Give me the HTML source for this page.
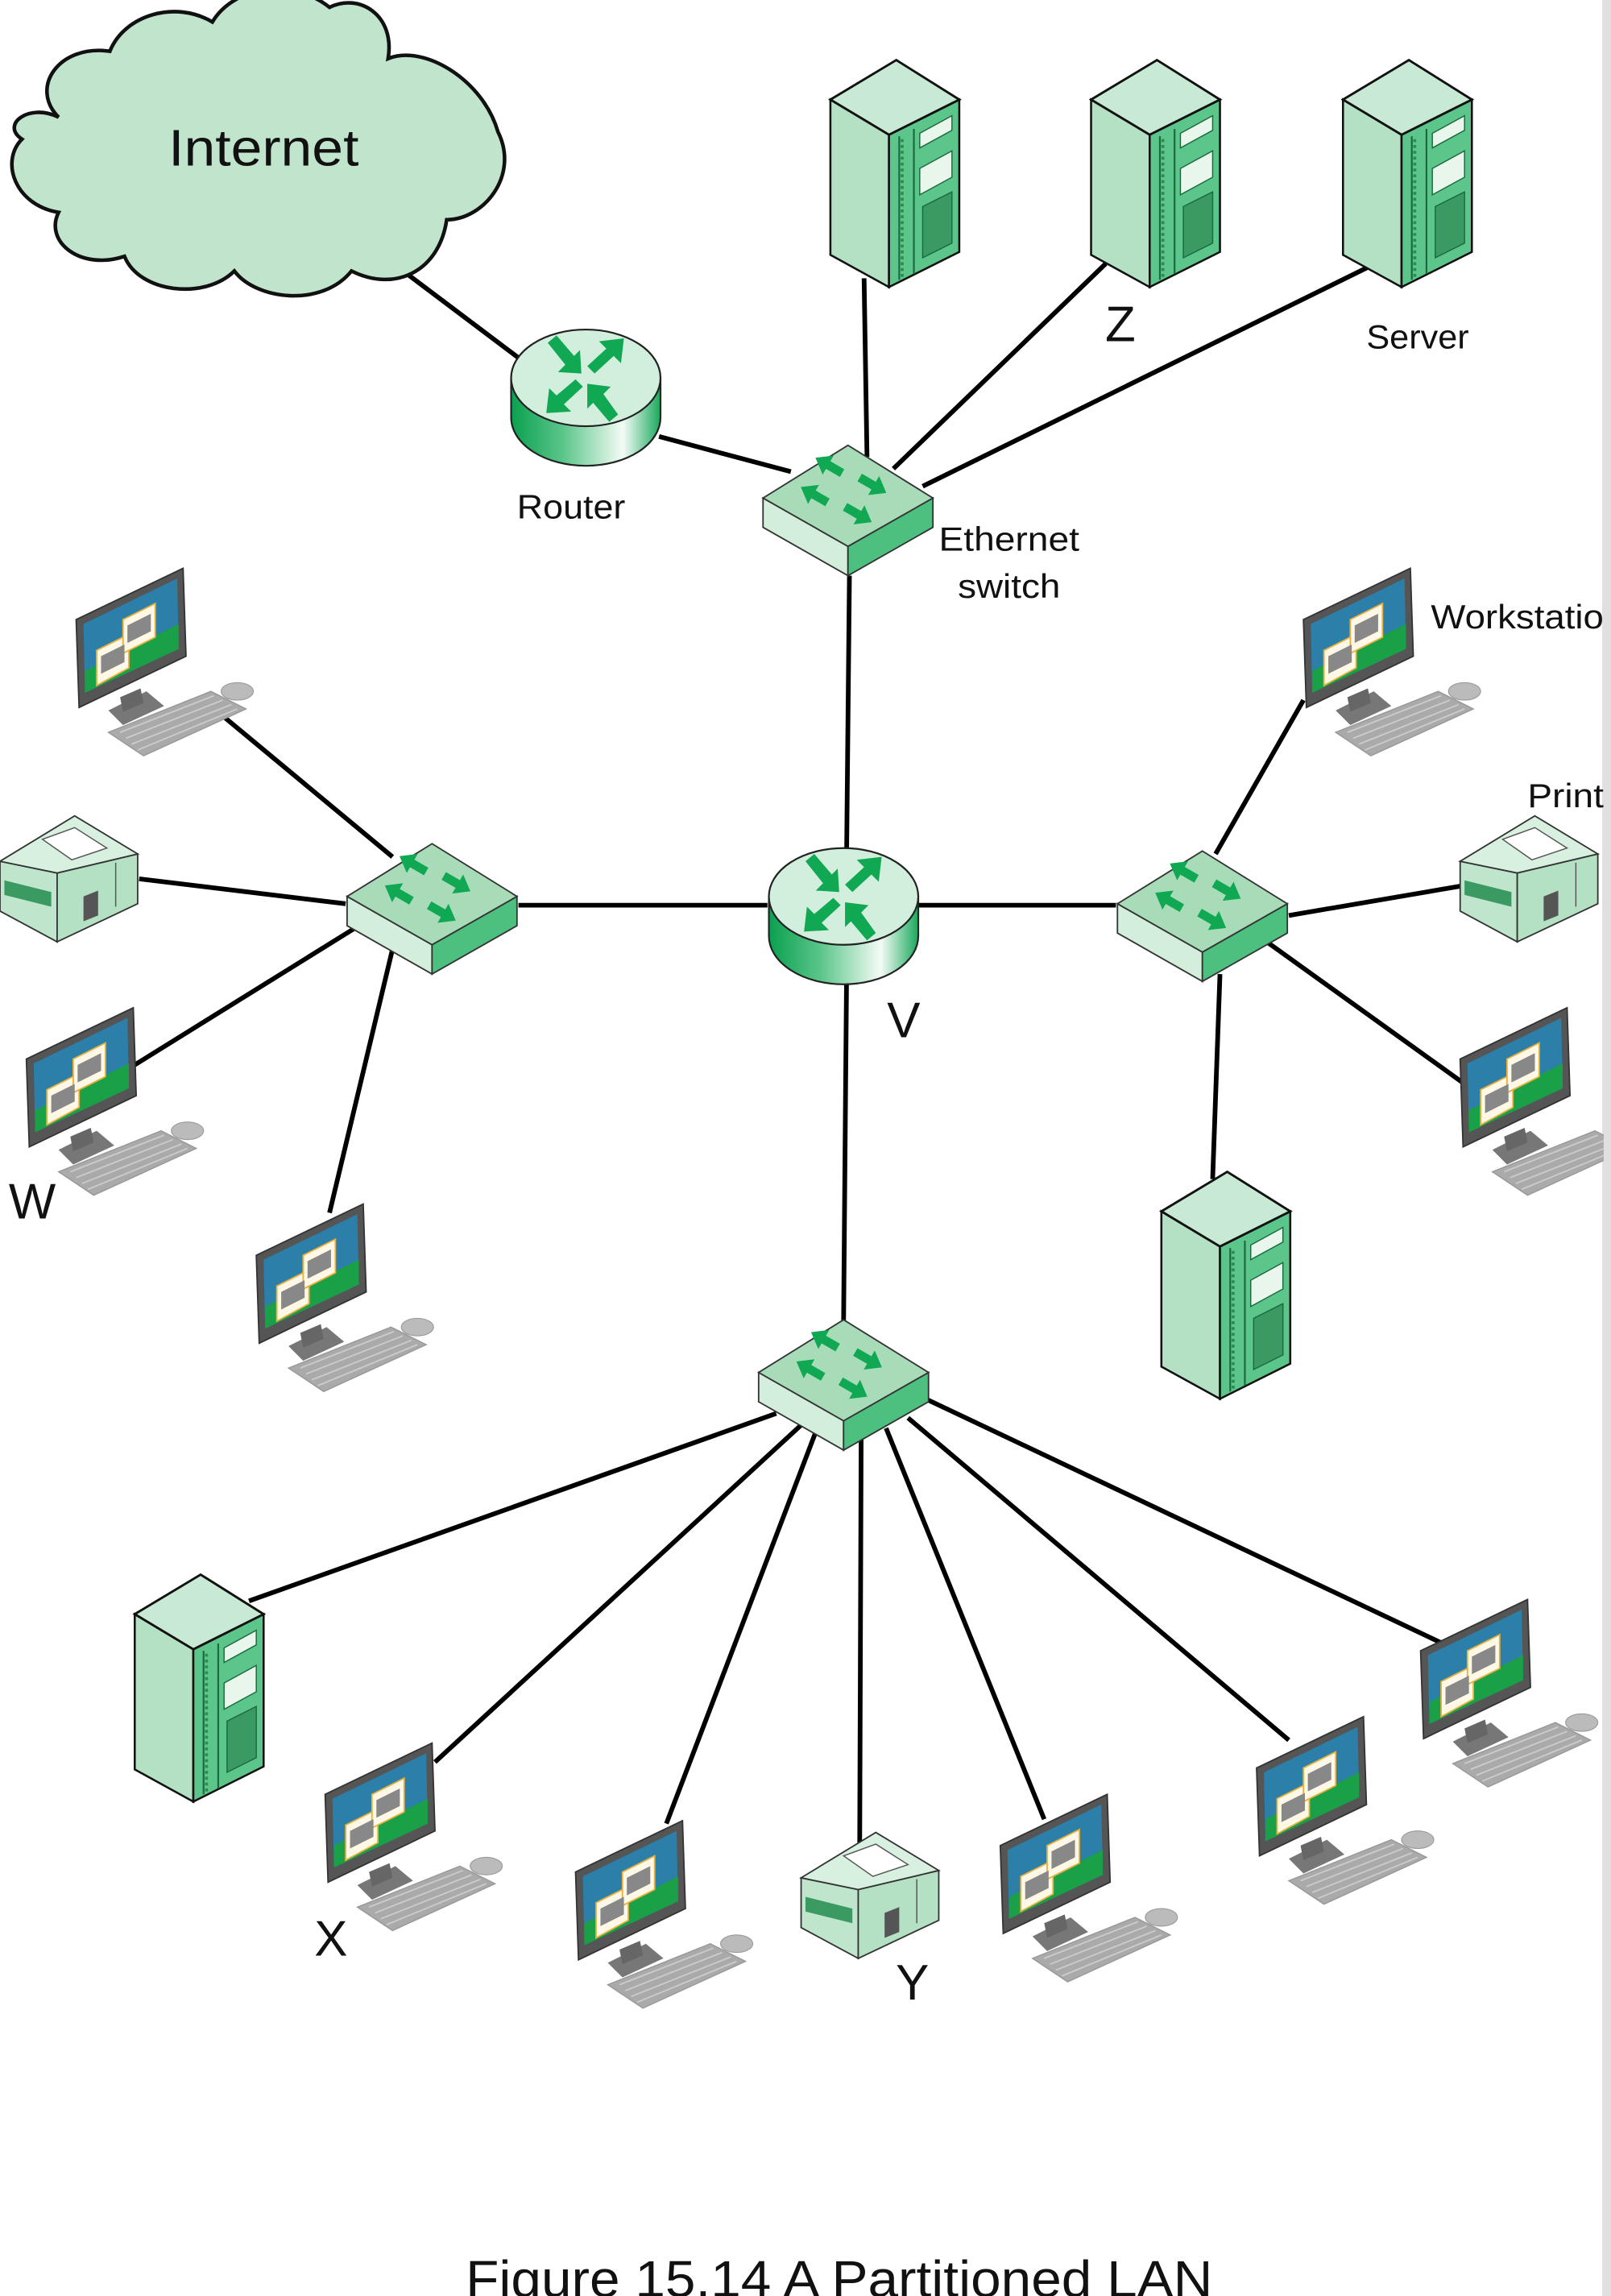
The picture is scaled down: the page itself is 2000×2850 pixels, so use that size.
<!DOCTYPE html>
<html><head><meta charset="utf-8"><style>
html,body{margin:0;padding:0;background:#fff;}
svg{display:block;}
text{font-family:"Liberation Sans",sans-serif;fill:#111;}
</style></head><body>
<svg width="2000" height="2850" viewBox="0 0 1100 1567.5" xmlns="http://www.w3.org/2000/svg">
<defs>
<linearGradient id="cyl" x1="0" x2="1" y1="0" y2="0">
<stop offset="0" stop-color="#0aa050"/><stop offset="0.35" stop-color="#5cc68a"/><stop offset="0.75" stop-color="#f4fbf6"/><stop offset="1" stop-color="#1aa85c"/>
</linearGradient>
<path id="arr" d="M0,-3 L11,-3 L11,-7.5 L21,0 L11,7.5 L11,3 L0,3 Z" fill="#10a852"/>
<g id="router">
<path d="M-51,0 L-51,27 A51,33 0 0 0 51,27 L51,0 Z" fill="url(#cyl)" stroke="#222" stroke-width="1.2"/>
<ellipse cx="0" cy="0" rx="51" ry="33" fill="#d2eedc" stroke="#222" stroke-width="1.2"/>
<g fill="#10a852">
<path d="M-26,-24 L-20,-29 L-8,-15 L-4,-19 L-3,-3 L-19,-4 L-14,-9 Z"/>
<path d="M26,-27 L24,-10 L19,-15 L6,-3 L1,-8 L14,-20 L9,-25 Z"/>
<path d="M-27,24 L-25,7 L-20,12 L-7,1 L-2,6 L-15,18 L-10,23 Z"/>
<path d="M22,25 L16,30 L5,17 L1,21 L1,4 L17,6 L12,11 Z"/>
</g>
</g>
<g id="switch">
<path d="M-58,0 L0,33 L0,53 L-58,20 Z" fill="#d4eedc" stroke="#333" stroke-width="1"/>
<path d="M58,0 L0,33 L0,53 L58,20 Z" fill="#4dbf7f" stroke="#333" stroke-width="1"/>
<path d="M0,-36 L58,0 L0,33 L-58,0 Z" fill="#a8dcb8" stroke="#333" stroke-width="1"/>
<use href="#arr" transform="translate(-4,-17) rotate(210)"/>
<use href="#arr" transform="translate(8,-14) rotate(30)"/>
<use href="#arr" transform="translate(-14,3) rotate(210)"/>
<use href="#arr" transform="translate(-2,6) rotate(30)"/>
</g>
<g id="server">
<path d="M-45,27 L-5,51 L-5,155 L-45,133 Z" fill="#b4e0c4" stroke="#111" stroke-width="1.4"/>
<path d="M43,27 L-5,51 L-5,155 L43,131 Z" fill="#5cc68a" stroke="#111" stroke-width="1.4"/>
<path d="M0,0 L43,27 L-5,51 L-45,27 Z" fill="#c8ead4" stroke="#111" stroke-width="1.6"/>
<path d="M2,52 L2,150 M12,47 L12,146" stroke="#1b6a3e" stroke-width="1.2"/>
<path d="M4,54 L4,148" stroke="#2a8a50" stroke-width="2" stroke-dasharray="2 2"/>
<path d="M16,50 L38,38 L38,48 L16,60 Z" fill="#e8f6ec" stroke="#1b6a3e" stroke-width="0.8"/>
<path d="M16,74 L38,62 L38,80 L16,92 Z" fill="#e8f6ec" stroke="#1b6a3e" stroke-width="0.8"/>
<path d="M18,100 L38,90 L38,125 L18,135 Z" fill="#3a9a62" stroke="#1b6a3e" stroke-width="0.8"/>
</g>
<g id="printer">
<path d="M-51,31 L-12,39 L-12,86 L-51,65 Z" fill="#bfe6cc" stroke="#333" stroke-width="1"/>
<path d="M43,26 L-12,39 L-12,86 L43,60 Z" fill="#b4e0c4" stroke="#333" stroke-width="1"/>
<path d="M0,0 L43,26 L-12,39 L-51,31 Z" fill="#d8f0e0" stroke="#333" stroke-width="1"/>
<path d="M-22,16 L0,8 L22,22 L-2,30 Z" fill="#fff" stroke="#555" stroke-width="0.8"/>
<path d="M-48,44 L-16,52 L-16,62 L-48,54 Z" fill="#3a9a62"/>
<path d="M6,55 L16,51 L16,68 L6,72 Z" fill="#555"/>
<path d="M28,32 L28,62" stroke="#555" stroke-width="0.8"/>
</g>
<g id="ws">
<path d="M0,35 L73,0 L75,60 L2,95 Z" fill="#555" stroke="#333" stroke-width="1"/>
<path d="M5,38 L69,7 L70,55 L6,85 Z" fill="#2b7fa8"/>
<path d="M6,70 L70,38 L70,55 L6,85 Z" fill="#1aa046"/>
<path d="M14,56 L36,45 L36,68 L14,80 Z" fill="#fff8e6" stroke="#e8b040" stroke-width="1"/>
<path d="M32,35 L54,24 L54,47 L32,58 Z" fill="#fff8e6" stroke="#e8b040" stroke-width="1"/>
<path d="M17,60 L33,52 L33,64 L17,72 Z M35,39 L51,31 L51,43 L35,51 Z" fill="#888"/>
<path d="M22,97 L48,84 L60,94 L32,107 Z" fill="#777"/>
<path d="M30,88 L44,82 L46,92 L32,98 Z" fill="#666"/>
<path d="M22,112 L92,84 L116,96 L46,128 Z" fill="#aaa" stroke="#999" stroke-width="0.8"/>
<path d="M30,112 L94,87 M34,116 L100,90 M38,120 L106,93 M42,124 L110,96" stroke="#ccc" stroke-width="1"/>
<ellipse cx="110" cy="84" rx="11" ry="6" fill="#bbb" stroke="#999" stroke-width="0.6"/>
</g>
</defs>

<rect x="1094" y="0" width="6" height="1568" fill="#e0e0e0"/>

<g stroke="#000" stroke-width="3.2" fill="none">
<line x1="262" y1="175" x2="355" y2="245"/>
<line x1="450" y1="298" x2="540" y2="322"/>
<line x1="590" y1="190" x2="592" y2="312"/>
<line x1="610" y1="320" x2="755" y2="180"/>
<line x1="630" y1="332" x2="935" y2="182"/>
<line x1="580" y1="393" x2="578" y2="590"/>
<line x1="354" y1="618" x2="524" y2="618"/>
<line x1="626" y1="618" x2="762" y2="618"/>
<line x1="578" y1="672" x2="576" y2="902"/>
<line x1="150" y1="487" x2="268" y2="585"/>
<line x1="95" y1="600" x2="236" y2="617"/>
<line x1="92" y1="727" x2="245" y2="632"/>
<line x1="225" y1="828" x2="268" y2="648"/>
<line x1="890" y1="478" x2="830" y2="583"/>
<line x1="880" y1="625" x2="997" y2="605"/>
<line x1="865" y1="643" x2="1000" y2="740"/>
<line x1="833" y1="665" x2="828" y2="805"/>
<line x1="530" y1="965" x2="170" y2="1093"/>
<line x1="548" y1="972" x2="297" y2="1203"/>
<line x1="558" y1="975" x2="455" y2="1245"/>
<line x1="588" y1="980" x2="587" y2="1262"/>
<line x1="605" y1="975" x2="713" y2="1242"/>
<line x1="620" y1="968" x2="880" y2="1188"/>
<line x1="632" y1="955" x2="985" y2="1122"/>
</g>

<path d="M40,80 C20,60 40,30 75,35 C85,10 120,0 145,15 C160,-10 200,-15 225,5 C245,-5 270,10 265,40 C290,30 330,55 340,90 C355,120 330,150 305,150 C300,185 270,200 240,185 C220,210 175,205 160,185 C140,205 95,200 85,175 C55,185 30,165 40,145 C10,140 0,110 15,95 C0,85 20,70 40,80 Z" fill="#c0e4cc" stroke="#111" stroke-width="2.5"/>
<text x="180" y="113" font-size="35" text-anchor="middle" textLength="130" lengthAdjust="spacingAndGlyphs">Internet</text>

<use href="#router" x="400" y="258"/>
<use href="#router" x="576" y="612"/>

<use href="#switch" x="579" y="340"/>
<use href="#switch" x="295" y="612"/>
<use href="#switch" x="821" y="617"/>
<use href="#switch" x="576" y="937"/>

<use href="#server" x="612" y="41"/>
<use href="#server" x="790" y="41"/>
<use href="#server" x="962" y="41"/>
<use href="#server" x="838" y="800"/>
<use href="#server" x="137" y="1075"/>

<use href="#printer" x="51" y="557"/>
<use href="#printer" x="1048" y="557"/>
<use href="#printer" x="598" y="1251"/>

<use href="#ws" x="52" y="388"/>
<use href="#ws" x="18" y="688"/>
<use href="#ws" x="175" y="822"/>
<use href="#ws" x="890" y="388"/>
<use href="#ws" x="997" y="688"/>
<use href="#ws" x="222" y="1190"/>
<use href="#ws" x="393" y="1243"/>
<use href="#ws" x="683" y="1225"/>
<use href="#ws" x="858" y="1172"/>
<use href="#ws" x="970" y="1092"/>

<rect x="1095" y="0" width="5" height="1568" fill="#e0e0e0"/>

<g font-size="23">
<text x="390" y="354" text-anchor="middle" textLength="74" lengthAdjust="spacingAndGlyphs">Router</text>
<text x="689" y="376" text-anchor="middle" textLength="96" lengthAdjust="spacingAndGlyphs">Ethernet</text>
<text x="689" y="408" text-anchor="middle" textLength="70" lengthAdjust="spacingAndGlyphs">switch</text>
<text x="968" y="238" text-anchor="middle" textLength="70" lengthAdjust="spacingAndGlyphs">Server</text>
<text x="977" y="429" textLength="118" lengthAdjust="spacingAndGlyphs">Workstatio</text>
<text x="1043" y="551" textLength="52" lengthAdjust="spacingAndGlyphs">Print</text>
</g>
<g font-size="34">
<text x="765" y="233" text-anchor="middle">Z</text>
<text x="617" y="708" text-anchor="middle">V</text>
<text x="22" y="832" text-anchor="middle">W</text>
<text x="226" y="1335" text-anchor="middle">X</text>
<text x="623" y="1365" text-anchor="middle">Y</text>
</g>
<text x="318" y="1568" font-size="35" textLength="510" lengthAdjust="spacingAndGlyphs">Figure 15.14  A Partitioned LAN</text>
</svg>
</body></html>
